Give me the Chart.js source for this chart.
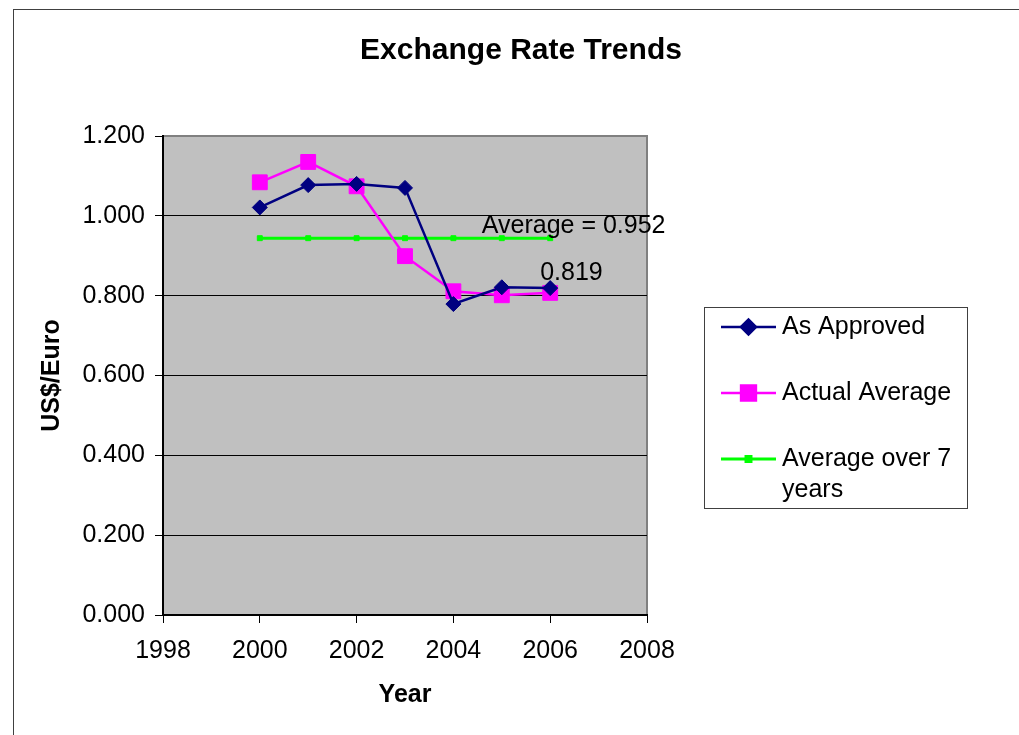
<!DOCTYPE html>
<html>
<head>
<meta charset="utf-8">
<script src="https://cdn.jsdelivr.net/npm/chart.js@4"></script>
<style>
  html, body { margin: 0; padding: 0; background: #fff; overflow: hidden; }
  #frame { position: absolute; left: 13px; top: 9px; width: 2000px; height: 2000px; border: 1px solid #404040; }
  #wrap { position: absolute; left: 0; top: 0; width: 1019px; height: 735px; }
</style>
</head>
<body>
<div id="frame"></div>
<div id="wrap"><canvas id="chart"></canvas></div>
<script>
// Data
const years = [2000, 2001, 2002, 2003, 2004, 2005, 2006];
const asApproved = [1.021, 1.077, 1.080, 1.070, 0.779, 0.821, 0.819];
const actualAverage = [1.084, 1.135, 1.074, 0.899, 0.811, 0.801, 0.807];
const averageOver7 = [0.944, 0.944, 0.944, 0.944, 0.944, 0.944, 0.944];
const seriesNames = ['As Approved', 'Actual Average', 'Average over 7 years'];
const xTicks = [1998, 2000, 2002, 2004, 2006, 2008];
const yTicks = [0, 0.2, 0.4, 0.6, 0.8, 1.0, 1.2];
const chartTitle = 'Exchange Rate Trends';
// point labels: [dataset index, point index, text]
const pointLabels = [
  [2, 5, 'Average = 0.952'],
  [0, 6, '0.819']
];

const FONT = 'Arial, "Liberation Sans", sans-serif';

function toPoints(values) {
  return values.map((v, i) => ({ x: years[i], y: v }));
}

// grey plot background + grey frame (top/right)
const plotBg = {
  id: 'plotBg',
  beforeDraw(chart) {
    const a = chart.chartArea;
    const ctx = chart.ctx;
    ctx.save();
    ctx.fillStyle = '#c0c0c0';
    ctx.fillRect(a.left, a.top, a.right - a.left, a.bottom - a.top);
    ctx.strokeStyle = '#808080';
    ctx.lineWidth = 2;
    ctx.strokeRect(a.left, a.top, a.right - a.left, a.bottom - a.top);
    // title centred over the whole chart object
    ctx.fillStyle = '#000';
    ctx.font = 'bold 30px ' + FONT;
    ctx.textAlign = 'center';
    ctx.textBaseline = 'middle';
    ctx.fillText(chartTitle, 521, 51);
    ctx.restore();
  }
};

// text labels next to points
const labelPlugin = {
  id: 'labelPlugin',
  afterDatasetsDraw(chart) {
    const ctx = chart.ctx;
    const xs = chart.scales.x;
    const ys = chart.scales.y;
    ctx.save();
    ctx.font = '25px ' + FONT;
    ctx.fillStyle = '#000';
    ctx.textBaseline = 'middle';
    ctx.textAlign = 'left';
    pointLabels.forEach(([di, pi, text]) => {
      const p = chart.data.datasets[di].data[pi];
      const px = xs.getPixelForValue(p.x);
      const py = ys.getPixelForValue(p.y);
      if (di === 2) {
        ctx.fillText(text, px - 20, py - 12);
      } else {
        ctx.fillText(text, px - 10, py - 15);
      }
    });
    ctx.restore();
  }
};

// boxed legend on the right, Excel style
const boxLegend = {
  id: 'boxLegend',
  afterDraw(chart) {
    const ctx = chart.ctx;
    const left = 704, top = 307, width = 263, height = 201;
    ctx.save();
    ctx.fillStyle = '#fff';
    ctx.fillRect(left, top, width, height);
    ctx.strokeStyle = '#404040';
    ctx.lineWidth = 1;
    ctx.strokeRect(left + 0.5, top + 0.5, width, height);
    const rows = [327, 393, 459];
    chart.data.datasets.forEach((ds, i) => {
      const y = rows[i];
      ctx.strokeStyle = ds.borderColor;
      ctx.lineWidth = ds.borderWidth;
      ctx.beginPath();
      ctx.moveTo(721, y);
      ctx.lineTo(776, y);
      ctx.stroke();
      Chart.helpers.drawPoint(ctx, {
        pointStyle: ds.pointStyle,
        radius: ds.pointRadius,
        borderWidth: 1
      }, 748.5, y);
      ctx.fillStyle = ds.pointBackgroundColor;
      ctx.fill();
      ctx.fillStyle = '#000';
      ctx.font = '25px ' + FONT;
      ctx.textBaseline = 'middle';
      ctx.textAlign = 'left';
      if (i === 2) {
        ctx.fillText('Average over 7', 782, y);
        ctx.fillText('years', 782, y + 31);
      } else {
        ctx.fillText(seriesNames[i], 782, y);
      }
    });
    ctx.restore();
  }
};

new Chart(document.getElementById('chart'), {
  type: 'line',
  data: {
    datasets: [
      {
        label: seriesNames[0],
        data: toPoints(asApproved),
        borderColor: '#000080',
        backgroundColor: '#000080',
        pointBackgroundColor: '#000080',
        pointBorderColor: '#000080',
        borderWidth: 2.5,
        pointStyle: 'rectRot',
        pointRadius: 7.5,
        pointBorderWidth: 1
      },
      {
        label: seriesNames[1],
        data: toPoints(actualAverage),
        borderColor: '#ff00ff',
        backgroundColor: '#ff00ff',
        pointBackgroundColor: '#ff00ff',
        pointBorderColor: '#ff00ff',
        borderWidth: 2.5,
        pointStyle: 'rect',
        pointRadius: 10.5,
        pointBorderWidth: 1
      },
      {
        label: seriesNames[2],
        data: toPoints(averageOver7),
        borderColor: '#00ff00',
        backgroundColor: '#00ff00',
        pointBackgroundColor: '#00ff00',
        pointBorderColor: '#00ff00',
        borderWidth: 3,
        pointStyle: 'rect',
        pointRadius: 3.5,
        pointBorderWidth: 1
      }
    ]
  },
  options: {
    responsive: true,
    maintainAspectRatio: false,
    animation: false,
    layout: { padding: { left: 0, right: 372, top: 136, bottom: 0 } },
    plugins: {
      legend: { display: false },
      tooltip: { enabled: false },
      title: { display: false }
    },
    scales: {
      x: {
        type: 'linear',
        min: 1998,
        max: 2008,
        afterBuildTicks(scale) {
          scale.ticks = xTicks.map(v => ({ value: v }));
        },
        afterFit(scale) { scale.height = 120; },
        ticks: {
          color: '#000',
          font: { family: FONT, size: 25 },
          padding: 13,
          callback: v => String(v)
        },
        grid: {
          drawOnChartArea: false,
          tickLength: 8,
          color: '#000',
          tickColor: '#000'
        },
        border: { color: '#000', width: 2 },
        title: {
          display: true,
          text: 'Year',
          color: '#000',
          font: { family: FONT, size: 25, weight: 'bold' },
          padding: { top: 4, bottom: 25 }
        }
      },
      y: {
        min: 0,
        max: 1.2,
        afterBuildTicks(scale) {
          scale.ticks = yTicks.map(v => ({ value: v }));
        },
        afterFit(scale) { scale.width = 163; },
        ticks: {
          color: '#000',
          font: { family: FONT, size: 25 },
          padding: 10,
          callback: v => Number(v).toFixed(3)
        },
        grid: {
          color: ctx => (ctx.tick && ctx.tick.value >= 1.2 ? '#808080' : '#000'),
          tickColor: '#000',
          tickLength: 8,
          lineWidth: 1
        },
        border: { color: '#000', width: 2 },
        title: {
          display: true,
          text: 'US$/Euro',
          color: '#000',
          font: { family: FONT, size: 25, weight: 'bold' },
          padding: { top: 37, bottom: 0 }
        }
      }
    }
  },
  plugins: [plotBg, labelPlugin, boxLegend]
});
</script>
</body>
</html>
